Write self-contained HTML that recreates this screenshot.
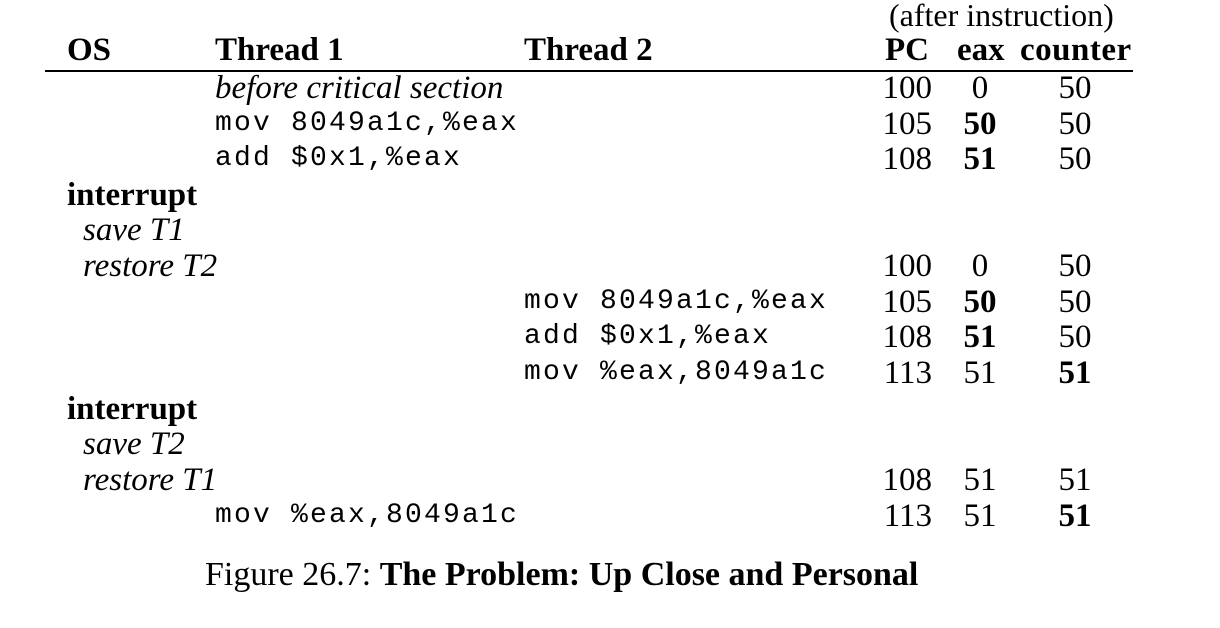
<!DOCTYPE html>
<html><head><meta charset="utf-8"><style>
html,body{margin:0;padding:0;background:#fff;}
body{width:1220px;height:628px;position:relative;overflow:hidden;font-family:"Liberation Serif",serif;color:#000;font-size:33px;}
.t{position:absolute;line-height:36px;white-space:nowrap;}
.m{font-family:"Liberation Mono",monospace;font-size:28px;letter-spacing:2.2px;}
.i{font-style:italic;}
.b{font-weight:bold;}
.r{text-align:right;width:62px;}
.c{text-align:center;width:60px;}
</style></head><body>
<div class="t" style="left:889px;top:-3px;font-size:32px">(after instruction)</div>
<div class="t b" style="left:67px;top:32px">OS</div>
<div class="t b" style="left:215px;top:32px">Thread 1</div>
<div class="t b" style="left:524px;top:32px">Thread 2</div>
<div class="t b" style="left:885px;top:32px">PC</div>
<div class="t b" style="left:957px;top:32px">eax</div>
<div class="t b" style="left:1020px;top:32px;letter-spacing:0.5px">counter</div>
<div style="position:absolute;left:45px;top:70px;width:1088px;height:2px;background:#000"></div>

<div class="t i" style="left:215px;top:70px">before critical section</div>
<div class="t m" style="left:215px;top:106px">mov 8049a1c,%eax</div>
<div class="t m" style="left:215px;top:141px">add $0x1,%eax</div>
<div class="t b" style="left:67px;top:177px">interrupt</div>
<div class="t i" style="left:83px;top:212px">save T1</div>
<div class="t i" style="left:83px;top:248px">restore T2</div>
<div class="t m" style="left:524px;top:284px">mov 8049a1c,%eax</div>
<div class="t m" style="left:524px;top:319px">add $0x1,%eax</div>
<div class="t m" style="left:524px;top:355px">mov %eax,8049a1c</div>
<div class="t b" style="left:67px;top:391px">interrupt</div>
<div class="t i" style="left:83px;top:426px">save T2</div>
<div class="t i" style="left:83px;top:462px">restore T1</div>
<div class="t m" style="left:215px;top:498px">mov %eax,8049a1c</div>

<div class="t r" style="left:870px;top:70px">100</div><div class="t c" style="left:950px;top:70px">0</div><div class="t c" style="left:1045px;top:70px">50</div>
<div class="t r" style="left:870px;top:106px">105</div><div class="t c b" style="left:950px;top:106px">50</div><div class="t c" style="left:1045px;top:106px">50</div>
<div class="t r" style="left:870px;top:141px">108</div><div class="t c b" style="left:950px;top:141px">51</div><div class="t c" style="left:1045px;top:141px">50</div>
<div class="t r" style="left:870px;top:248px">100</div><div class="t c" style="left:950px;top:248px">0</div><div class="t c" style="left:1045px;top:248px">50</div>
<div class="t r" style="left:870px;top:284px">105</div><div class="t c b" style="left:950px;top:284px">50</div><div class="t c" style="left:1045px;top:284px">50</div>
<div class="t r" style="left:870px;top:319px">108</div><div class="t c b" style="left:950px;top:319px">51</div><div class="t c" style="left:1045px;top:319px">50</div>
<div class="t r" style="left:870px;top:355px">113</div><div class="t c" style="left:950px;top:355px">51</div><div class="t c b" style="left:1045px;top:355px">51</div>
<div class="t r" style="left:870px;top:462px">108</div><div class="t c" style="left:950px;top:462px">51</div><div class="t c" style="left:1045px;top:462px">51</div>
<div class="t r" style="left:870px;top:498px">113</div><div class="t c" style="left:950px;top:498px">51</div><div class="t c b" style="left:1045px;top:498px">51</div>

<div class="t" style="left:205px;top:557px;font-size:34px">Figure 26.7: <b>The Problem: Up Close and Personal</b></div>
</body></html>
